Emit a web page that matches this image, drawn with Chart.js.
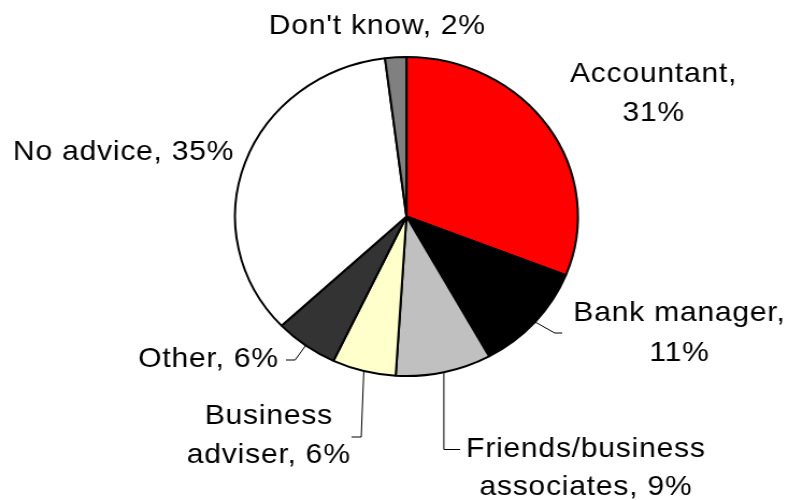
<!DOCTYPE html>
<html>
<head>
<meta charset="utf-8">
<script src="https://cdn.jsdelivr.net/npm/chart.js@4"></script>
<style>
  html, body { margin: 0; padding: 0; background: #fff; overflow: hidden; }
  #wrap { width: 738px; height: 500px; transform: scaleX(1.075); transform-origin: 0 0; }
  canvas { display: block; }
</style>
</head>
<body>
<div id="wrap"><canvas id="pieChart" width="738" height="500"></canvas></div>
<script>
const categories = ['Accountant', 'Bank manager', 'Friends/business associates', 'Business adviser', 'Other', 'No advice', "Don't know"];
const shares = [31, 11, 9, 6, 6, 35, 2];
const sliceColours = ['#ff0000', '#000000', '#c0c0c0', '#ffffcc', '#333333', '#ffffff', '#808080'];

// where each label sits: centre x, baselines, how many words go on line one,
// and the leader line (elbow + end) for the ones that have one
const labelLayout = [
  { x: 608, y: [82, 121], words: 1 },
  { x: 632, y: [321, 361], words: 2, elbow: [516, 333], end: [523, 333] },
  { x: 545, y: [457, 495], words: 1, elbow: [null, 449.5], end: [428, 449.5] },
  { x: 250, y: [424, 463], words: 1, elbow: [336, 437], end: [327, 437] },
  { x: 194, y: [367], elbow: [274.5, 360], end: [266, 360] },
  { x: 115, y: [160] },
  { x: 351, y: [34] }
];

const pieLabels = {
  id: 'pieLabels',
  afterDraw(chart) {
    const ctx = chart.ctx;
    const arcs = chart.getDatasetMeta(0).data;
    ctx.save();
    ctx.font = '28px "Liberation Sans", Arial, sans-serif';
    ctx.letterSpacing = '0.7px';
    ctx.fillStyle = '#000';
    ctx.textAlign = 'center';
    ctx.textBaseline = 'alphabetic';
    arcs.forEach((arc, i) => {
      const lay = labelLayout[i];
      const words = (categories[i] + ', ' + shares[i] + '%').split(' ');
      const lines = lay.words ? [words.slice(0, lay.words).join(' '), words.slice(lay.words).join(' ')] : [words.join(' ')];
      lines.forEach((t, k) => ctx.fillText(t, lay.x, lay.y[k]));

      if (lay.elbow) {
        const mid = (arc.startAngle + arc.endAngle) / 2;
        const sx = arc.x + Math.cos(mid) * arc.outerRadius;
        const sy = arc.y + Math.sin(mid) * arc.outerRadius;
        const ex = lay.elbow[0] === null ? sx : lay.elbow[0];
        ctx.beginPath();
        ctx.strokeStyle = '#000';
        ctx.lineWidth = 1;
        ctx.moveTo(sx, sy);
        ctx.lineTo(ex, lay.elbow[1]);
        ctx.lineTo(lay.end[0], lay.end[1]);
        ctx.stroke();
      }
    });
    ctx.restore();
  }
};

new Chart(document.getElementById('pieChart'), {
  type: 'pie',
  data: {
    labels: categories,
    datasets: [{
      data: shares,
      backgroundColor: sliceColours,
      borderColor: '#000',
      borderWidth: 2
    }]
  },
  options: {
    responsive: false,
    animation: false,
    layout: { padding: { left: 217.6, right: 199.4, top: 56, bottom: 123 } },
    plugins: {
      legend: { display: false },
      tooltip: { enabled: false }
    }
  },
  plugins: [pieLabels]
});
</script>
</body>
</html>
